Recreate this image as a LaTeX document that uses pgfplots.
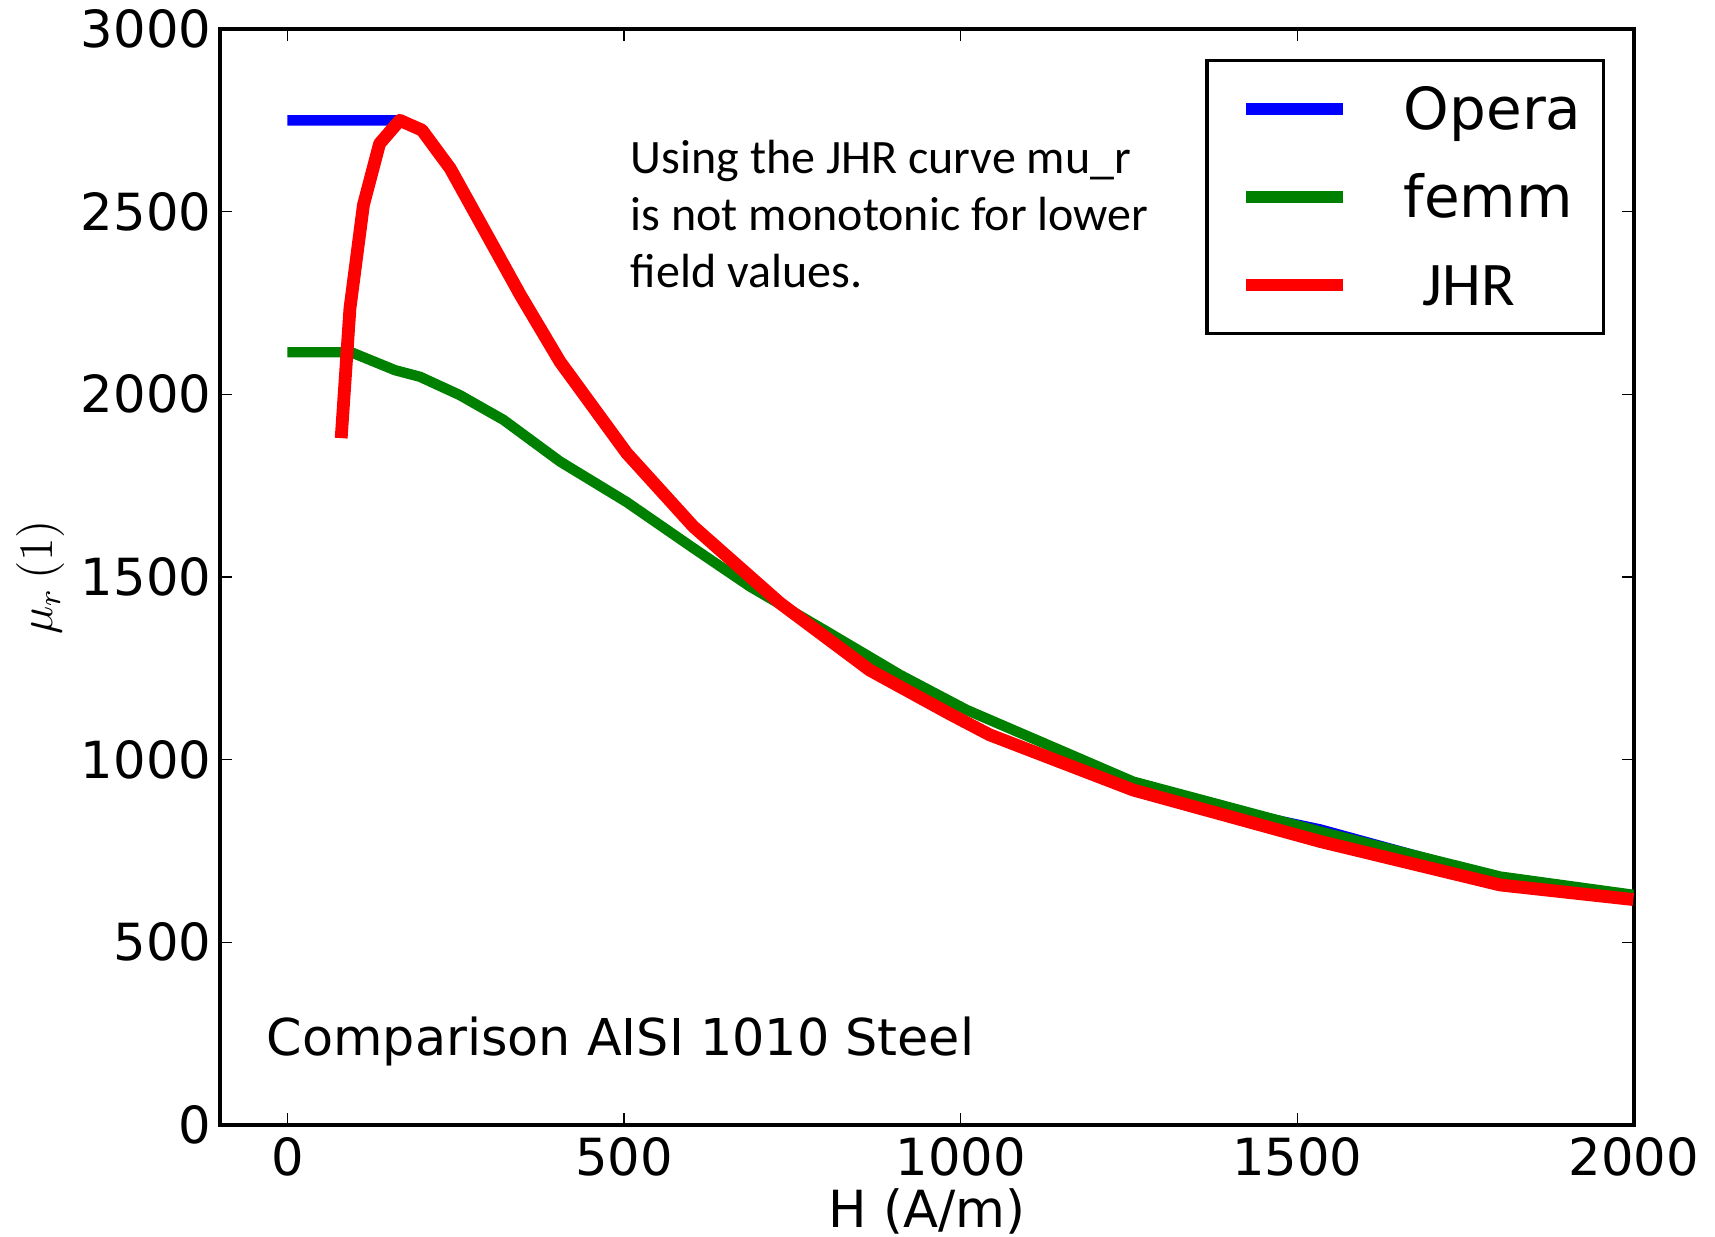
\documentclass[border=0pt]{standalone}
\usepackage{fontspec}
\setmainfont{DejaVu Sans}
\newfontfamily\carlito{Carlito}
\usepackage{pgfplots}
\pgfplotsset{compat=1.18}
\definecolor{mblue}{RGB}{0,0,255}
\definecolor{mgreen}{RGB}{0,128,0}
\definecolor{mred}{RGB}{255,0,0}
\begin{document}
\begin{tikzpicture}
\useasboundingbox (-55pt,-28pt) rectangle (373.75pt,281.25pt);
\begin{axis}[
  at={(0pt,0pt)}, anchor=south west,
  scale only axis, width=353.5pt, height=274pt,
  xmin=-100, xmax=2000, ymin=0, ymax=3000,
  xtick={0,500,1000,1500,2000}, xticklabels={0,500,1000,1500,2000},
  ytick={0,500,1000,1500,2000,2500,3000}, yticklabels={0,500,1000,1500,2000,2500,3000},
  tick align=inside, major tick length=3pt,
  tick style={black, line width=0.4pt},
  axis line style={line width=0.8pt},
  ticklabel style={font=\fontsize{12.8}{15}\selectfont, inner sep=0pt},
  xticklabel shift=3pt, yticklabel shift=2pt,
  xlabel={H (A/m)},
  xlabel style={font=\fontsize{12.8}{15}\selectfont, at={(axis description cs:0.5,0)}, anchor=base, yshift=-25.75pt, inner sep=0pt},
  ylabel={$\mu_r\,(1)$},
  ylabel style={font=\fontsize{12}{14}\selectfont, at={(axis description cs:-0.1181,0.5)}, anchor=base, inner sep=0pt},
  legend cell align=left,
  legend style={at={(1,1)}, anchor=north east, xshift=-7.25pt, yshift=-7.55pt,
    draw=black, line width=0.8pt, fill=white,
    inner xsep=5.5pt, inner ysep=6.8pt, row sep=11.5pt, column sep=0pt,
    font=\fontsize{14.5}{17}\selectfont,
    nodes={inner sep=0pt, text height=10.5pt, text depth=0pt}},
  legend image code/.code={\draw[#1, line width=3pt] (4.3pt,0pt) -- (28.55pt,0pt); \path[draw=none,fill=none] (0pt,0pt) -- (43.7pt,0pt);},
]
\addplot[mblue, line width=2.6pt, line join=round] coordinates {
(0,2750) (167,2750) (200,2723) (242,2618) (346,2272) (405,2089) (504,1839)
(603,1638) (732,1428) (865,1245) (984,1125) (1043,1068) (1256,917)
(1534,809) (1801,674) (1999,622)};
\addlegendentry{Opera}
\addplot[mgreen, line width=2.6pt, line join=round] coordinates {
(0,2115) (95,2115) (160,2066) (197,2048) (256,1998) (321,1930) (405,1816)
(504,1705) (603,1579) (687,1474) (800,1352) (910,1232) (1009,1136)
(1256,940) (1534,803) (1801,680) (1999,630)};
\addlegendentry{femm}
\addplot[mred, line width=3.2pt, line join=round] coordinates {
(80,1880) (93,2235) (113,2518) (137,2686) (167,2750) (200,2723) (242,2618)
(346,2272) (405,2089) (504,1839) (603,1638) (732,1428) (865,1245)
(984,1125) (1043,1068) (1256,917) (1534,776) (1801,657) (1999,617)};
\addlegendentry{\hspace{4.75pt}{\carlito\fontsize{15.5}{17}\selectfont JHR}}
\node[anchor=north west, inner sep=0pt, align=left, font=\carlito\fontsize{12}{14.3}\selectfont]
  at (rel axis cs:0.29,0.8994) {Using the JHR curve mu\_r\\is not monotonic for lower\\field values.};
\node[anchor=base west, inner sep=0pt, font=\fontsize{12.7}{15}\selectfont]
  at (rel axis cs:0.0325,0.063) {Comparison AISI 1010 Steel};
\end{axis}
\end{tikzpicture}
\end{document}
